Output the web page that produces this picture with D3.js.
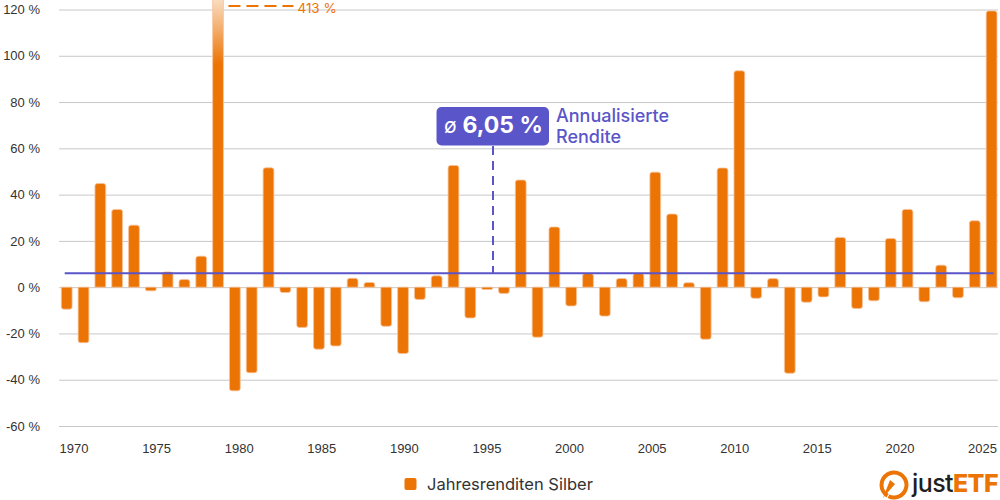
<!DOCTYPE html>
<html>
<head>
<meta charset="utf-8">
<script src="https://cdn.jsdelivr.net/npm/d3@7"></script>
<style>
  body { margin: 0; background: #fff; }
  svg { display: block; font-family: Inter, "Open Sans", sans-serif; }
</style>
</head>
<body>
<div id="chart"></div>
<script>
// Jahresrenditen Silber (in %)
const years = [1970, 1971, 1972, 1973, 1974, 1975, 1976, 1977, 1978, 1979,
               1980, 1981, 1982, 1983, 1984, 1985, 1986, 1987, 1988, 1989,
               1990, 1991, 1992, 1993, 1994, 1995, 1996, 1997, 1998, 1999,
               2000, 2001, 2002, 2003, 2004, 2005, 2006, 2007, 2008, 2009,
               2010, 2011, 2012, 2013, 2014, 2015, 2016, 2017, 2018, 2019,
               2020, 2021, 2022, 2023, 2024, 2025];
const returns = [-9.5, -24, 44.8, 33.6, 26.8, -1.6, 6.6, 3.3, 13.4, 413,
                 -44.8, -37, 51.6, -2.3, -17.4, -26.8, -25.4, 3.8, 2.0, -16.9,
                 -28.7, -5.3, 4.9, 52.6, -13.3, -1.0, -2.7, 46.3, -21.6, 26,
                 -8.1, 5.9, -12.5, 3.7, 5.9, 49.7, 31.6, 1.9, -22.5, 51.5,
                 93.5, -4.8, 3.7, -37.2, -6.5, -4.2, 21.5, -9.2, -5.9, 21,
                 33.6, -6.3, 9.5, -4.6, 28.7, 119.4];
const avgReturn = 6.05;
const yTicks = [-60, -40, -20, 0, 20, 40, 60, 80, 100, 120];
const xTickYears = [1970, 1975, 1980, 1985, 1990, 1995, 2000, 2005, 2010, 2015, 2020, 2025];

const W = 1000, H = 500;
const orange = "#ec7405";
const purple = "#5a55c9";

const svg = d3.select("#chart").append("svg")
    .attr("width", W)
    .attr("height", H);

const y = d3.scaleLinear().domain([-60, 120]).range([426, 9.5]);
const x = d3.scaleBand().domain(years).range([58.3, 1000])
    .paddingInner(0.36).paddingOuter(0.18);
// the year labels sit on their own slightly narrower spread
const xt = d3.scaleLinear().domain([1970, 2025]).range([73.5, 982]);

// gradient for the cut-off 1979 bar
const defs = svg.append("defs");
const grad = defs.append("linearGradient")
    .attr("id", "fade")
    .attr("gradientUnits", "userSpaceOnUse")
    .attr("x1", 0).attr("y1", 0).attr("x2", 0).attr("y2", 64);
grad.append("stop").attr("offset", 0).attr("stop-color", "#f9dcc0");
grad.append("stop").attr("offset", 1).attr("stop-color", orange);

// y grid + labels
const yAxis = svg.append("g")
    .attr("transform", "translate(59,0)")
    .call(d3.axisLeft(y).tickValues(yTicks)
        .tickSize(-939).tickPadding(19)
        .tickFormat(d => d + " %"));
yAxis.select(".domain").remove();
yAxis.selectAll(".tick line").attr("stroke", "#c8c8c8").attr("stroke-width", 1);
yAxis.selectAll(".tick text")
    .attr("fill", "#333").attr("font-size", 13);

// x labels
const xAxis = svg.append("g")
    .attr("transform", "translate(0,426)")
    .call(d3.axisBottom(xt).tickValues(xTickYears)
        .tickSize(0).tickPadding(18).tickFormat(d => d));
xAxis.select(".domain").remove();
xAxis.selectAll(".tick text")
    .attr("fill", "#333").attr("font-size", 13);

// bars with rounded tip
function barPath(x0, w, yBase, yTip, r) {
    const sign = yTip < yBase ? -1 : 1;
    const rr = Math.min(r, Math.abs(yTip - yBase) / 2, w / 2);
    return `M${x0},${yBase} L${x0},${yTip - sign * rr} Q${x0},${yTip} ${x0 + rr},${yTip} ` +
        `L${x0 + w - rr},${yTip} Q${x0 + w},${yTip} ${x0 + w},${yTip - sign * rr} L${x0 + w},${yBase} Z`;
}

const bars = years.map((yr, i) => ({ year: yr, value: returns[i] }));
svg.append("g").selectAll("path")
    .data(bars)
    .enter()
    .append("path")
    .attr("d", d => {
        let tip = y(d.value);
        if (tip < 0) tip = -4;
        return barPath(x(d.year), x.bandwidth(), y(0), tip, 2.5);
    })
    .attr("fill", d => y(d.value) < 0 ? "url(#fade)" : orange)
    .attr("stroke", "#f6c39a")
    .attr("stroke-width", 0.8);

// label for the cut-off bar
const big = bars.find(d => y(d.value) < 0);
const bigX = x(big.year) + x.bandwidth();
svg.append("line")
    .attr("x1", bigX + 5).attr("x2", bigX + 70)
    .attr("y1", 6).attr("y2", 6)
    .attr("stroke", orange).attr("stroke-width", 2)
    .attr("stroke-dasharray", "12,6");
svg.append("text")
    .attr("x", bigX + 74).attr("y", 12.5)
    .attr("fill", orange).attr("font-size", 13.5)
    .text(d3.format(".0f")(big.value) + " %");

// average line
svg.append("line")
    .attr("x1", x(years[0]) + x.bandwidth() / 2 - 2)
    .attr("x2", x(years[years.length - 1]) + x.bandwidth() / 2 + 2)
    .attr("y1", y(avgReturn)).attr("y2", y(avgReturn))
    .attr("stroke", purple).attr("stroke-width", 2);

// annotation
const annX = 493;
svg.append("line")
    .attr("x1", annX).attr("x2", annX)
    .attr("y1", 146).attr("y2", y(avgReturn))
    .attr("stroke", purple).attr("stroke-width", 2)
    .attr("stroke-dasharray", "9,6");
svg.append("rect")
    .attr("x", 436.5).attr("y", 107).attr("width", 112.5).attr("height", 38.5)
    .attr("rx", 5).attr("fill", purple);
const badge = svg.append("text")
    .attr("x", 444).attr("y", 133)
    .attr("fill", "#fff");
badge.append("tspan").attr("font-size", 21).text("ø ");
badge.append("tspan").attr("font-size", 23).attr("font-weight", 700)
    .text(d3.format(".2f")(avgReturn).replace(".", ",") + " %");
svg.append("text")
    .attr("x", 556).attr("y", 121.5)
    .attr("fill", purple).attr("font-size", 18).attr("font-weight", 500)
    .text("Annualisierte");
svg.append("text")
    .attr("x", 556).attr("y", 142.5)
    .attr("fill", purple).attr("font-size", 18).attr("font-weight", 500)
    .text("Rendite");

// legend
svg.append("rect")
    .attr("x", 404.5).attr("y", 478).attr("width", 12).attr("height", 12)
    .attr("rx", 2).attr("fill", orange);
svg.append("text")
    .attr("x", 427).attr("y", 490)
    .attr("fill", "#333").attr("font-size", 16.5)
    .text("Jahresrenditen Silber");

// justETF logo
const logo = svg.append("g").attr("transform", "translate(894,485)");
const arc = d3.arc().innerRadius(10.5).outerRadius(14.5)
    .startAngle(-2.6).endAngle(3.6);
logo.append("path").attr("d", arc()).attr("fill", orange);
logo.append("path").attr("d", "M1,-1 L-11,13 L-4,-5 Z").attr("fill", orange);
const brand = svg.append("text")
    .attr("x", 912).attr("y", 492)
    .attr("font-size", 25).attr("letter-spacing", -0.6);
brand.append("tspan").attr("fill", "#1f1f1f").attr("font-weight", 500).text("just");
brand.append("tspan").attr("fill", orange).attr("font-weight", 800).text("ETF");
</script>
</body>
</html>
